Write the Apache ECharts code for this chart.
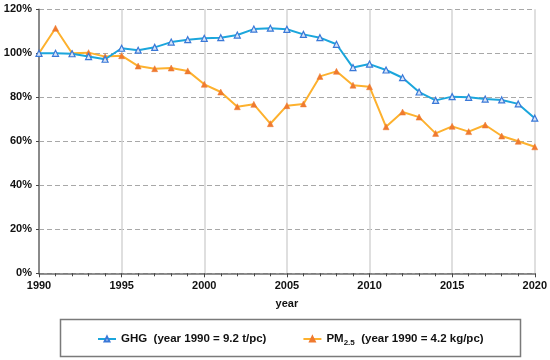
<!DOCTYPE html>
<html><head><meta charset="utf-8">
<script src="https://cdn.jsdelivr.net/npm/echarts@6/dist/echarts.min.js"></script>
<style>html,body{margin:0;padding:0;background:#fff}#c{width:550px;height:360px}</style>
</head><body><div id="c"></div>
<script>
const years = [1990,1991,1992,1993,1994,1995,1996,1997,1998,1999,2000,2001,2002,2003,2004,2005,2006,2007,2008,2009,2010,2011,2012,2013,2014,2015,2016,2017,2018,2019,2020];
const ghg = [100,100,99.8,98.5,97.3,102.3,101.4,102.7,105.1,106.2,106.8,107.1,108.3,111,111.4,110.9,108.6,107.1,104.1,93.5,95.1,92.4,88.9,82.4,78.6,80.3,80,79.2,78.8,77,70.5];
const pm25 = [100,111.4,100,100.3,98.5,98.9,94.2,93,93.3,92,85.9,82.4,75.7,76.8,68,76.2,77,89.5,91.8,85.5,84.8,66.6,73.3,71,63.6,66.8,64.4,67.4,62.4,60,57.5];
const yTicks = [0,20,40,60,80,100,120];
const ghgName = 'GHG  (year 1990 = 9.2 t/pc)';
const pmName = 'PM2.5  (year 1990 = 4.2 kg/pc)';

const font = 'Liberation Sans, Arial, sans-serif';
const chart = echarts.init(document.getElementById('c'), null, {renderer:'canvas'});
chart.setOption({
  animation: false,
  backgroundColor: '#fff',
  grid: {left: 39, right: 13, top: 9.3, bottom: 86.7},
  xAxis: {
    type: 'value', min: 1990, max: 2020, interval: 5,
    name: 'year', nameLocation: 'middle', nameGap: 25,
    nameTextStyle: {fontFamily: font, fontWeight: 'bold', fontSize: 11, color: '#111'},
    axisLine: {lineStyle: {color: '#6e6e6e', width: 1.5}},
    axisTick: {show: true, length: 4, lineStyle: {color: '#444'}},
    minorTick: {show: true, splitNumber: 5, length: 3, lineStyle: {color: '#444'}},
    axisLabel: {fontFamily: font, fontWeight: 'bold', fontSize: 11, color: '#111', margin: 7, formatter: v => String(v)},
    splitLine: {show: true, lineStyle: {color: '#d4d4d4', width: 1.5}}
  },
  yAxis: {
    type: 'value', min: yTicks[0], max: yTicks[yTicks.length-1], interval: 20,
    axisLine: {show: true, lineStyle: {color: '#6e6e6e', width: 1.5}},
    axisTick: {show: true, length: 3, lineStyle: {color: '#444'}},
    axisLabel: {fontFamily: font, fontWeight: 'bold', fontSize: 11, color: '#111', margin: 7, formatter: '{value}%'},
    splitLine: {show: true, lineStyle: {color: '#a8a8a8', width: 1, type: [5,3]}}
  },
  legend: {
    left: 92, top: 328, itemGap: 36, itemWidth: 18, itemHeight: 6,
    textStyle: {fontFamily: font, fontWeight: 'bold', fontSize: 11.5, color: '#111',
      rich: {
        a: {fontFamily: font, fontWeight: 'bold', fontSize: 11.5, color: '#111'},
        s: {fontFamily: font, fontWeight: 'bold', fontSize: 8, color: '#111', verticalAlign: 'bottom', padding: [8,0,0,0]}
      }},
    formatter: function(n){
      if (n === pmName) return '{a|PM}{s|2.5}{a|  (year 1990 = 4.2 kg/pc)}';
      return '{a|' + n + '}';
    },
    data: [ghgName, pmName]
  },
  graphic: [{
    type: 'rect', left: 58, top: 317, shape: {width: 460, height: 37},
    style: {fill: 'none', stroke: '#7a7a7a', lineWidth: 1.5}, silent: true
  }],
  series: [
    {
      name: ghgName, type: 'line', data: years.map((y,i)=>[y, ghg[i]]),
      symbol: 'triangle', symbolSize: 6, showAllSymbol: true,
      lineStyle: {color: '#1ba6dc', width: 2},
      itemStyle: {color: '#d8e6f7', borderColor: '#3a78d8', borderWidth: 1.2},
      z: 3
    },
    {
      name: pmName, type: 'line', data: years.map((y,i)=>[y, pm25[i]]),
      symbol: 'triangle', symbolSize: 6, showAllSymbol: true,
      lineStyle: {color: '#fdb12e', width: 2},
      itemStyle: {color: '#ef7a30', borderColor: '#ef7a30', borderWidth: 0.5},
      z: 2
    }
  ]
});
</script></body></html>
